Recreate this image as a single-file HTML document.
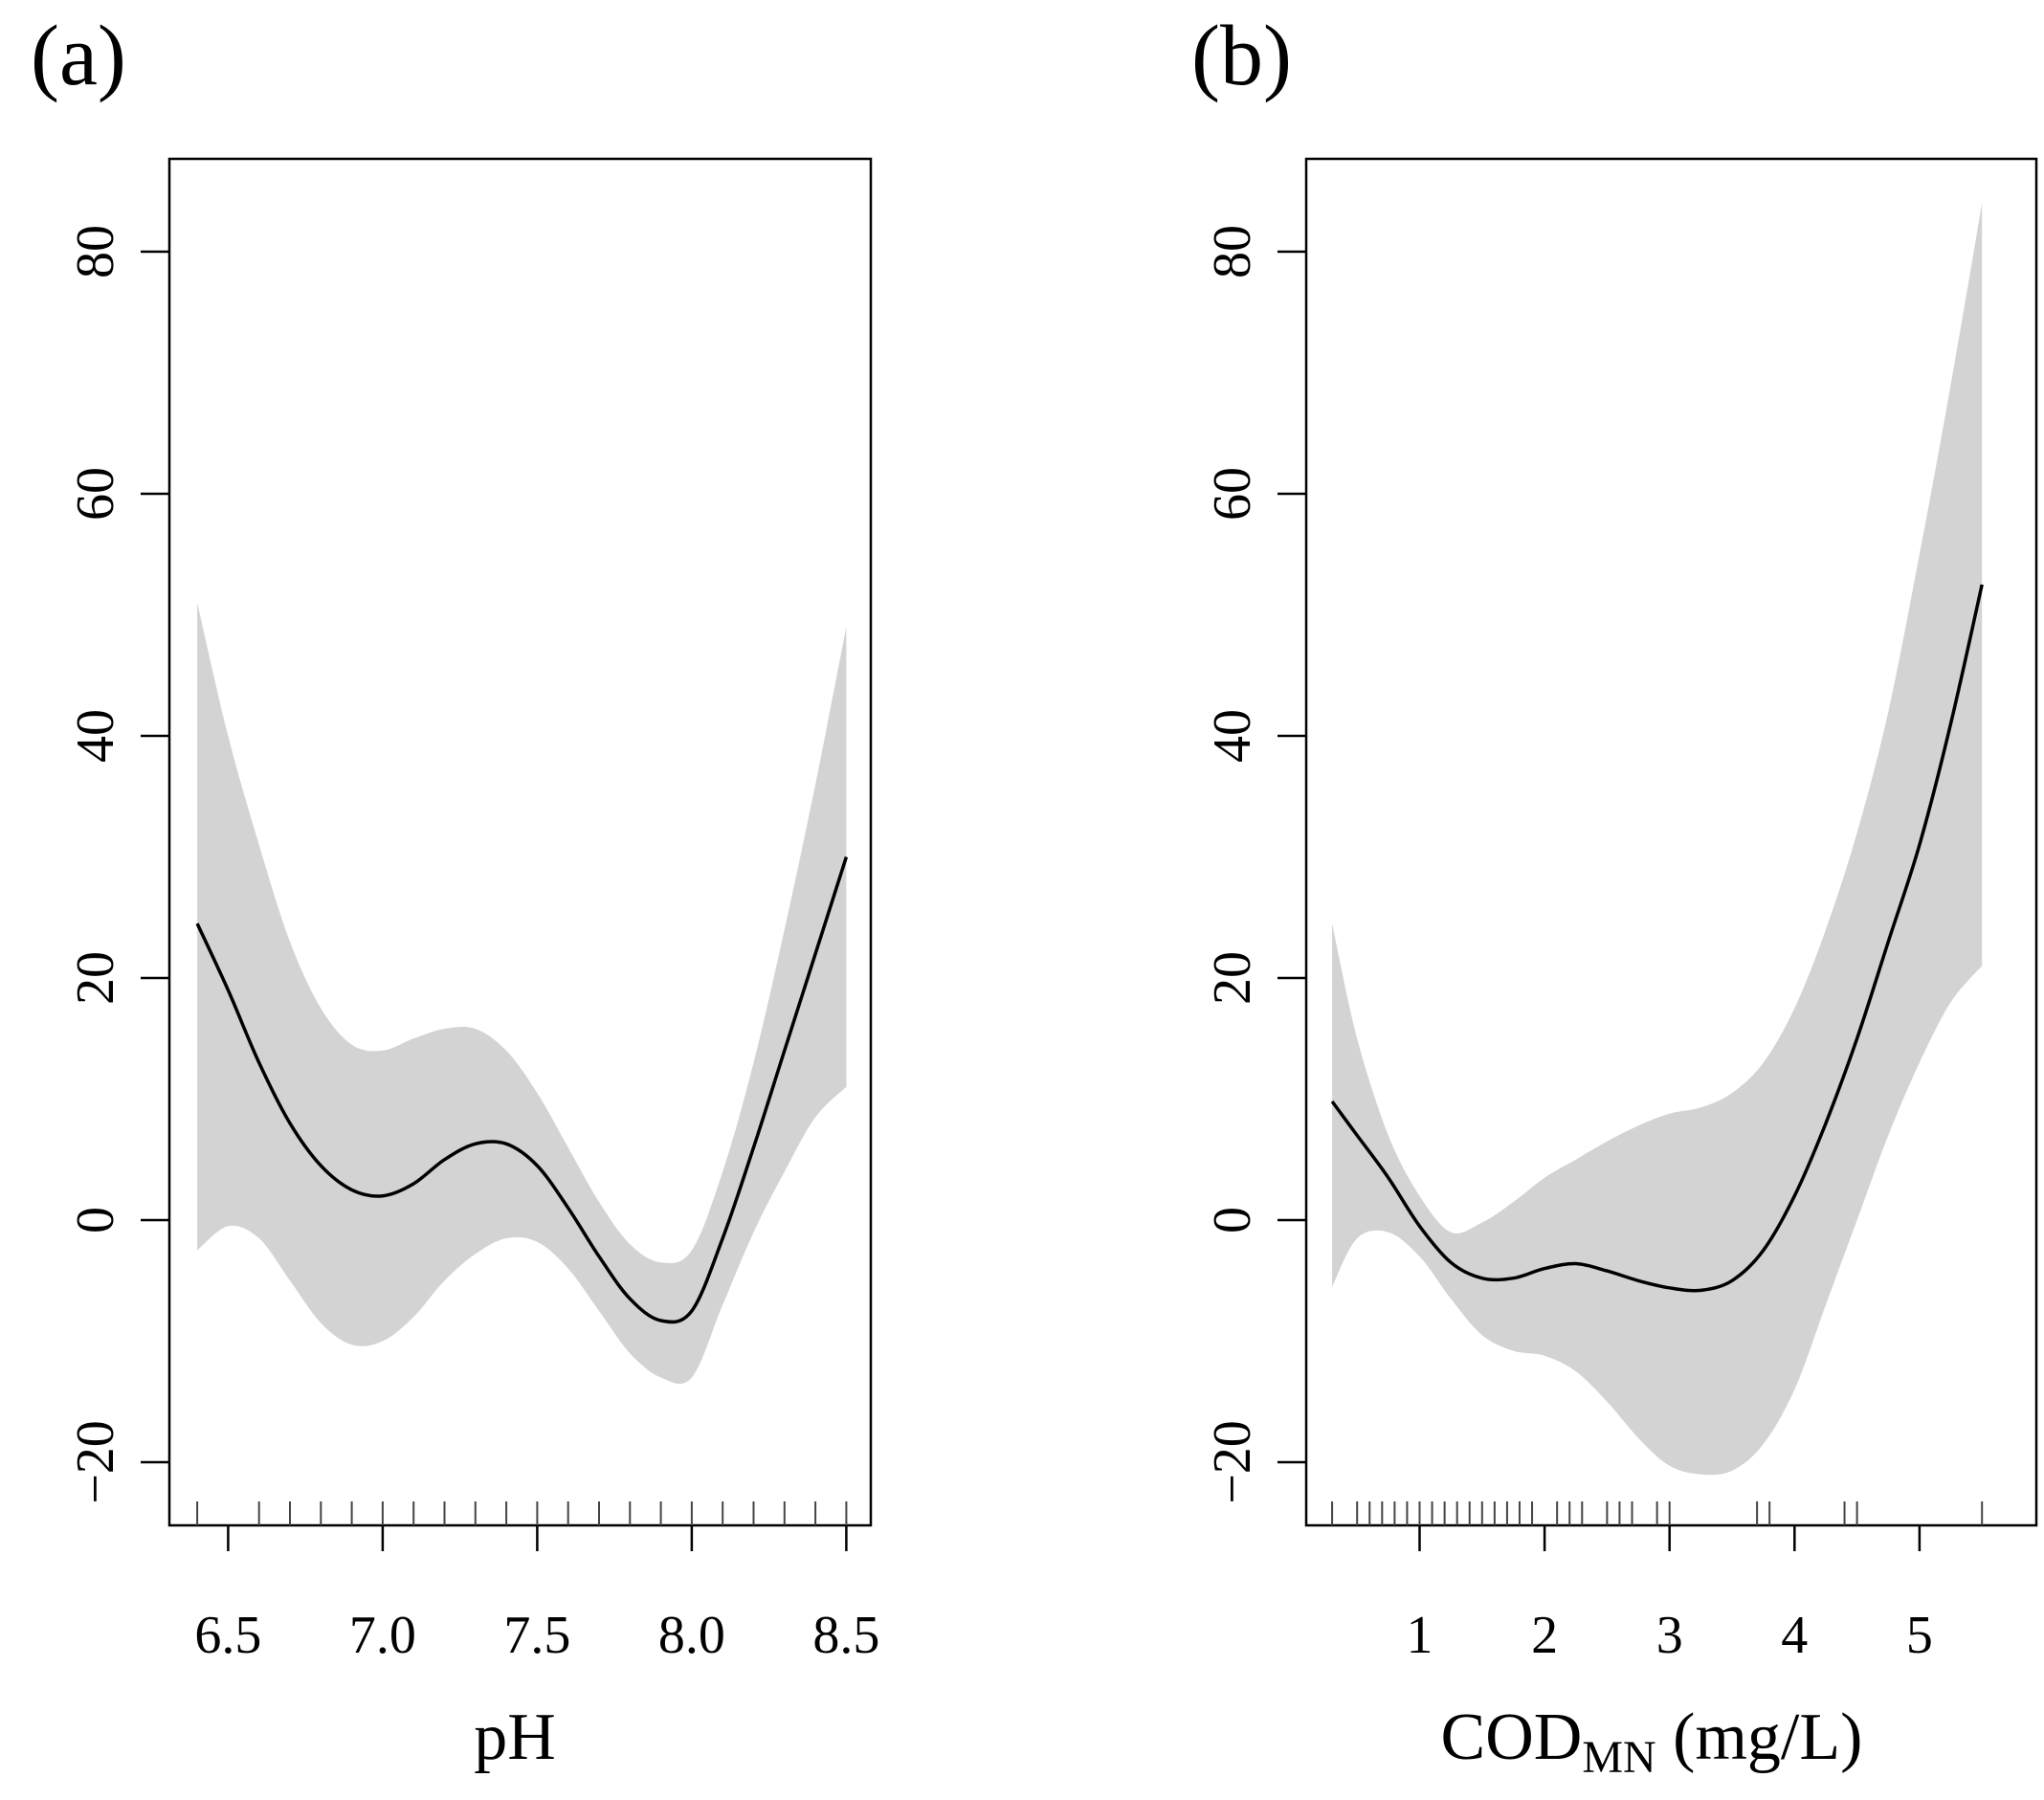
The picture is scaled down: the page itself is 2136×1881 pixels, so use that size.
<!DOCTYPE html>
<html><head><meta charset="utf-8"><style>
html,body{margin:0;padding:0;background:#fff;}
svg{display:block;font-family:"Liberation Serif",serif;}
</style></head><body>
<svg id="fig" width="2136" height="1881" viewBox="0 0 2136 1881"></svg>
<script>
// Panel (a) data
const aX=[6.4,6.5,6.6,6.7,6.8,6.9,7.0,7.1,7.2,7.3,7.4,7.5,7.6,7.7,7.8,7.9,8.0,8.1,8.2,8.3,8.4,8.5];
const aFit=[24.5,19,13,8,4.5,2.5,2,3,5,6.3,6.3,4.5,1,-3,-6.5,-8.3,-7.5,-1.5,6,14,22,30];
const aUp=[51,40,31,23,17.5,14.5,14,15,15.8,15.8,14,10.5,6,1.5,-2,-3.5,-2.5,4,13,24,36,49];
const aLo=[-2.5,-0.5,-1.5,-5,-8.5,-10.3,-10,-8,-5,-2.8,-1.5,-1.8,-4,-7.5,-11,-13,-13,-7,-1,4,8.5,11];
const aRug=[6.4,6.6,6.7,6.8,6.9,7.0,7.1,7.2,7.3,7.4,7.5,7.6,7.7,7.8,7.9,8.0,8.1,8.2,8.3,8.4,8.5];
const aTicks=[6.5,7.0,7.5,8.0,8.5];
const aTickLabels=["6.5","7.0","7.5","8.0","8.5"];
// Panel (b) data
const bX=[0.3,0.5,0.75,1.0,1.25,1.5,1.75,2.0,2.25,2.5,2.75,3.0,3.25,3.5,3.75,4.0,4.25,4.5,4.75,5.0,5.25,5.5];
const bFit=[9.8,7,3.5,-0.5,-3.5,-4.8,-4.8,-4,-3.6,-4.2,-5,-5.6,-5.8,-5,-2.5,2,8,15,23,31,41,52.5];
const bUp=[24.5,15,7,2,-1,-0.2,1.5,3.5,5,6.5,7.8,8.8,9.3,10.5,13,17.5,24,32,42,55,69,84];
const bLo=[-5.5,-1.5,-1,-3,-6.5,-9.5,-10.8,-11.2,-12.5,-15,-18,-20.3,-21,-20.7,-18.5,-14,-7,0,7,13,18,21];
const bRug=[0.3,0.5,0.6,0.7,0.8,0.9,1.0,1.1,1.2,1.3,1.4,1.5,1.6,1.7,1.8,1.9,2.1,2.2,2.3,2.5,2.6,2.7,2.9,3.0,3.7,3.8,4.4,4.5,5.5];
const bTicks=[1,2,3,4,5];
const bTickLabels=["1","2","3","4","5"];
const yTicks=[-20,0,20,40,60,80];
const yTickLabels=["\u221220","0","20","40","60","80"];

const NS="http://www.w3.org/2000/svg";
const svg=document.getElementById('fig');
function mk(tag,attrs,parent){const e=document.createElementNS(NS,tag);for(const k in attrs)e.setAttribute(k,attrs[k]);(parent||svg).appendChild(e);return e;}
const yScale=v=>1275-v*12.65;
const plotTop=166,plotBottom=1594;

function smooth(pts){
  let d="M"+pts[0][0].toFixed(1)+","+pts[0][1].toFixed(1);
  for(let i=0;i<pts.length-1;i++){
    const p0=pts[Math.max(0,i-1)],p1=pts[i],p2=pts[i+1],p3=pts[Math.min(pts.length-1,i+2)];
    const c1=[p1[0]+(p2[0]-p0[0])/6,p1[1]+(p2[1]-p0[1])/6];
    const c2=[p2[0]-(p3[0]-p1[0])/6,p2[1]-(p3[1]-p1[1])/6];
    d+=" C"+c1[0].toFixed(1)+","+c1[1].toFixed(1)+" "+c2[0].toFixed(1)+","+c2[1].toFixed(1)+" "+p2[0].toFixed(1)+","+p2[1].toFixed(1);
  }
  return d;
}

function panel(cfg){
  const g=mk('g',{});
  
  
  const xs=cfg.xScale;
  const upPts=cfg.x.map((x,i)=>[xs(x),yScale(cfg.up[i])]);
  const loPts=cfg.x.map((x,i)=>[xs(x),yScale(cfg.lo[i])]).reverse();
  const d=smooth(upPts)+" L"+loPts[0][0].toFixed(1)+","+loPts[0][1].toFixed(1)+smooth(loPts).replace(/^M[^ ]+/,"")+" Z";
  const band=mk('path',{d:d,fill:'#d3d3d3',stroke:'none'},g);
  
  
  const line=mk('path',{d:smooth(cfg.x.map((x,i)=>[xs(x),yScale(cfg.fit[i])])),fill:'none',stroke:'#000','stroke-width':3.5},g);
  
  
  const box=mk('rect',{x:cfg.left,y:plotTop,width:cfg.right-cfg.left,height:plotBottom-plotTop,fill:'none',stroke:'#000','stroke-width':2.5},g);
  
  
  cfg.rug.forEach(r=>{
    const t=mk('line',{x1:xs(r),x2:xs(r),y1:plotBottom,y2:plotBottom-25,stroke:'#444','stroke-width':2},g);
    
    
  });
  cfg.ticks.forEach((t,i)=>{
    const l=mk('line',{x1:xs(t),x2:xs(t),y1:plotBottom,y2:plotBottom+27,stroke:'#000','stroke-width':2.5},g);
    
    
    const tx=mk('text',{x:xs(t),y:1727,'font-size':56,'text-anchor':'middle'},g);
    tx.textContent=cfg.tickLabels[i];
    
    
  });
  yTicks.forEach((t,i)=>{
    const l=mk('line',{x1:cfg.left,x2:cfg.left-30,y1:yScale(t),y2:yScale(t),stroke:'#000','stroke-width':2.5},g);
    
    
    const tx=mk('text',{x:0,y:0,'font-size':56,'text-anchor':'middle',transform:`translate(${cfg.left-78},${yScale(t)}) rotate(-90) translate(0,19)`},g);
    tx.textContent=yTickLabels[i];
    
    
  });
  return g;
}

panel({name:'panel-a-ph',left:177,right:910,xScale:v=>238.4+(v-6.5)*323,x:aX,fit:aFit,up:aUp,lo:aLo,rug:aRug,ticks:aTicks,tickLabels:aTickLabels});
panel({name:'panel-b-cod',left:1365,right:2128,xScale:v=>1483.5+(v-1)*130.6,x:bX,fit:bFit,up:bUp,lo:bLo,rug:bRug,ticks:bTicks,tickLabels:bTickLabels});
</script>
<svg style="position:absolute;left:0;top:0" width="2136" height="1881">
<text x="32" y="88" font-size="90" font-family="Liberation Serif,serif">(a)</text>
<text x="1245" y="88" font-size="90" font-family="Liberation Serif,serif">(b)</text>
<text x="538" y="1838" font-size="70" text-anchor="middle" font-family="Liberation Serif,serif">pH</text>
<text x="1726" y="1838" font-size="70" text-anchor="middle" font-family="Liberation Serif,serif">COD<tspan font-size="48" dy="14">MN</tspan><tspan dy="-14"> (mg/L)</tspan></text>
</svg>
</body></html>
